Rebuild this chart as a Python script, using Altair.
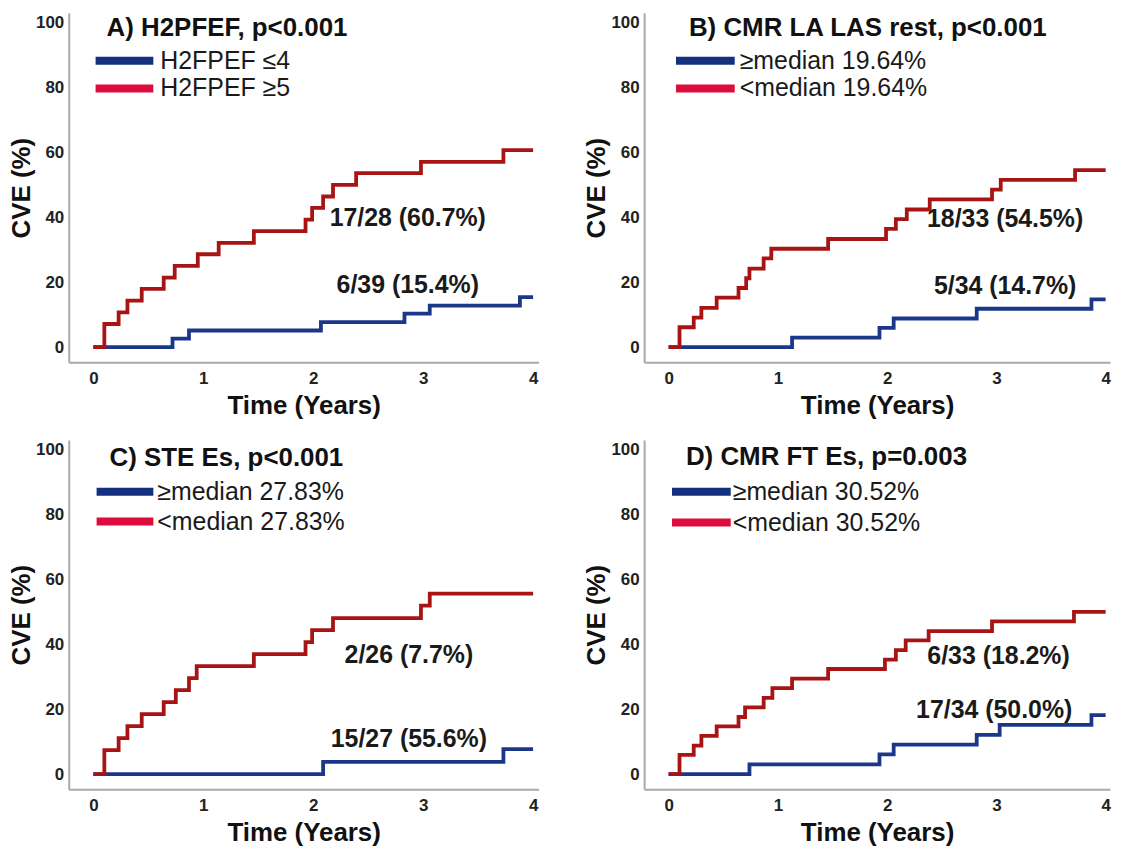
import altair as alt
import pandas as pd

FONT = "Liberation Sans"

# ---------------- data ----------------
# Panel A
A_TITLE = "A) H2PFEF, p<0.001"
A_LEGEND = ["H2FPEF \u22644", "H2FPEF \u22655"]
A_RED_T = [0, 0.10, 0.23, 0.31, 0.44, 0.64, 0.74, 0.95, 1.14, 1.46, 1.93, 1.99, 2.09, 2.18, 2.39, 2.98, 3.73, 4.0]
A_RED_Y = [0, 7.1, 10.7, 14.3, 17.9, 21.4, 25.0, 28.6, 32.1, 35.7, 39.3, 42.9, 46.4, 50.0, 53.6, 57.1, 60.7, 60.7]
A_BLUE_T = [0, 0.72, 0.87, 2.07, 2.83, 3.06, 3.88, 4.0]
A_BLUE_Y = [0, 2.6, 5.1, 7.7, 10.3, 12.8, 15.4, 15.4]
A_ANN_TEXT = ["17/28 (60.7%)", "6/39 (15.4%)"]
A_ANN_X = [2.86, 2.86]
A_ANN_Y = [39.7, 19.2]

# Panel B
B_TITLE = "B) CMR LA LAS rest, p<0.001"
B_LEGEND = ["\u2265median 19.64%", "<median 19.64%"]
B_RED_T = [0, 0.10, 0.23, 0.30, 0.44, 0.64, 0.71, 0.74, 0.87, 0.94, 1.46, 1.99, 2.08, 2.18, 2.39, 2.96, 3.04, 3.72, 4.0]
B_RED_Y = [0, 6.1, 9.1, 12.1, 15.2, 18.2, 21.2, 24.2, 27.3, 30.3, 33.3, 36.4, 39.4, 42.4, 45.5, 48.5, 51.5, 54.5, 54.5]
B_BLUE_T = [0, 1.13, 1.93, 2.06, 2.82, 3.87, 4.0]
B_BLUE_Y = [0, 2.9, 5.9, 8.8, 11.8, 14.7, 14.7]
B_ANN_TEXT = ["18/33 (54.5%)", "5/34 (14.7%)"]
B_ANN_X = [3.08, 3.08]
B_ANN_Y = [39.5, 18.8]

# Panel C
C_TITLE = "C) STE Es, p<0.001"
C_LEGEND = ["\u2265median 27.83%", "<median 27.83%"]
C_RED_T = [0, 0.10, 0.23, 0.31, 0.44, 0.64, 0.75, 0.87, 0.94, 1.46, 1.93, 1.99, 2.18, 2.98, 3.06, 4.0]
C_RED_Y = [0, 7.4, 11.1, 14.8, 18.5, 22.2, 25.9, 29.6, 33.3, 37.0, 40.7, 44.4, 48.1, 51.9, 55.6, 55.6]
C_BLUE_T = [0, 2.09, 3.73, 4.0]
C_BLUE_Y = [0, 3.8, 7.7, 7.7]
C_ANN_TEXT = ["2/26 (7.7%)", "15/27 (55.6%)"]
C_ANN_X = [2.87, 2.87]
C_ANN_Y = [36.7, 10.7]

# Panel D
D_TITLE = "D) CMR FT Es, p=0.003"
D_LEGEND = ["\u2265median 30.52%", "<median 30.52%"]
D_RED_T = [0, 0.10, 0.23, 0.30, 0.44, 0.64, 0.70, 0.87, 0.95, 1.13, 1.46, 1.98, 2.08, 2.17, 2.38, 2.96, 3.71, 4.0]
D_RED_Y = [0, 5.9, 8.8, 11.8, 14.7, 17.6, 20.6, 23.5, 26.5, 29.4, 32.4, 35.3, 38.2, 41.2, 44.1, 47.1, 50.0, 50.0]
D_BLUE_T = [0, 0.74, 1.93, 2.06, 2.82, 3.03, 3.87, 4.0]
D_BLUE_Y = [0, 3.0, 6.1, 9.1, 12.1, 15.2, 18.2, 18.2]
D_ANN_TEXT = ["6/33 (18.2%)", "17/34 (50.0%)"]
D_ANN_X = [3.02, 2.98]
D_ANN_Y = [36.3, 19.7]

X_TICKS = [0, 1, 2, 3, 4]
Y_TICKS = [0, 20, 40, 60, 80, 100]

# ---------------- style ----------------
LINE_RED = "#a81414"
LINE_BLUE = "#1b3789"
SW_BLUE = "#13307f"
SW_RED = "#dc0c3c"
H = 351
YDOM = [-4.7, 103]

one = pd.DataFrame({"k": [0]})


def panel(title, legend, red_t, red_y, blue_t, blue_y, ann_text, ann_x, ann_y, lay):
    df = pd.concat([
        pd.DataFrame({"t": blue_t, "v": blue_y, "grp": "blue"}),
        pd.DataFrame({"t": red_t, "v": red_y, "grp": "red"}),
    ], ignore_index=True)
    x = alt.X("t:Q", scale=alt.Scale(domain=lay["xdom"], nice=False, zero=False),
              axis=alt.Axis(values=X_TICKS, title="Time (Years)", format="d"))
    y = alt.Y("v:Q", scale=alt.Scale(domain=YDOM, nice=False, zero=False),
              axis=alt.Axis(values=Y_TICKS, title="CVE (%)", format="d"))
    lines = alt.Chart(df).mark_line(interpolate="step-after", strokeWidth=3.8).encode(
        x=x, y=y,
        color=alt.Color("grp:N", scale=alt.Scale(domain=["blue", "red"], range=[LINE_BLUE, LINE_RED]), legend=None),
    )
    adf = pd.DataFrame({"label": ann_text, "x": ann_x, "y": ann_y})
    ann = alt.Chart(adf).mark_text(font=FONT, fontSize=25, fontWeight="bold", color="#1a1a1a").encode(
        x=alt.X("x:Q"), y=alt.Y("y:Q"), text="label:N")
    ttl = alt.Chart(one).mark_text(font=FONT, fontSize=26, fontWeight="bold", color="#111111",
                                   align="left", baseline="middle").encode(
        x=alt.value(lay["tx"]), y=alt.value(lay["ty"]), text=alt.value(title))
    layers = [lines, ann, ttl]
    for i, (lab, col) in enumerate(zip(legend, [SW_BLUE, SW_RED])):
        yy = lay["ly"][i]
        layers.append(alt.Chart(one).mark_rule(strokeWidth=8).encode(
            x=alt.value(lay["sx"][0]), x2=alt.value(lay["sx"][1]), y=alt.value(yy), color=alt.value(col)))
        layers.append(alt.Chart(one).mark_text(font=FONT, fontSize=25, color="#1a1a1a",
                                               align="left", baseline="middle").encode(
            x=alt.value(lay["lx"]), y=alt.value(yy), text=alt.value(lab)))
    return alt.layer(*layers).properties(width=lay["w"], height=H)


pA = panel(A_TITLE, A_LEGEND, A_RED_T, A_RED_Y, A_BLUE_T, A_BLUE_Y, A_ANN_TEXT, A_ANN_X, A_ANN_Y,
           dict(w=472, xdom=[-0.224, 4.05], tx=38, ty=15, sx=(27, 85), lx=92, ly=(48, 76)))
pB = panel(B_TITLE, B_LEGEND, B_RED_T, B_RED_Y, B_BLUE_T, B_BLUE_Y, B_ANN_TEXT, B_ANN_X, B_ANN_Y,
           dict(w=468, xdom=[-0.224, 4.04], tx=45, ty=15, sx=(32, 91), lx=96, ly=(48, 76)))
pC = panel(C_TITLE, C_LEGEND, C_RED_T, C_RED_Y, C_BLUE_T, C_BLUE_Y, C_ANN_TEXT, C_ANN_X, C_ANN_Y,
           dict(w=472, xdom=[-0.224, 4.05], tx=41, ty=18, sx=(28, 85), lx=89, ly=(52, 82)))
pD = panel(D_TITLE, D_LEGEND, D_RED_T, D_RED_Y, D_BLUE_T, D_BLUE_Y, D_ANN_TEXT, D_ANN_X, D_ANN_Y,
           dict(w=468, xdom=[-0.224, 4.04], tx=42, ty=17, sx=(28, 87), lx=89, ly=(52, 83)))

chart = alt.vconcat(
    alt.hconcat(pA, pB, spacing=42),
    alt.hconcat(pC, pD, spacing=42),
    spacing=22,
).properties(
    padding={"left": 0, "top": 3, "right": 0, "bottom": 0}
).configure_view(stroke=None).configure_axis(
    grid=False, ticks=False,
    domainColor="#aaaaaa", domainWidth=2,
    labelFont=FONT, labelFontSize=17, labelFontWeight="bold", labelColor="#222222",
    titleFont=FONT, titleFontSize=26, titleFontWeight="bold", titleColor="#111111",
).configure_axisX(labelPadding=8, titlePadding=6).configure_axisY(labelPadding=5, titlePadding=1)

chart.save("out.html", embed_options={"renderer": "svg", "actions": False})
